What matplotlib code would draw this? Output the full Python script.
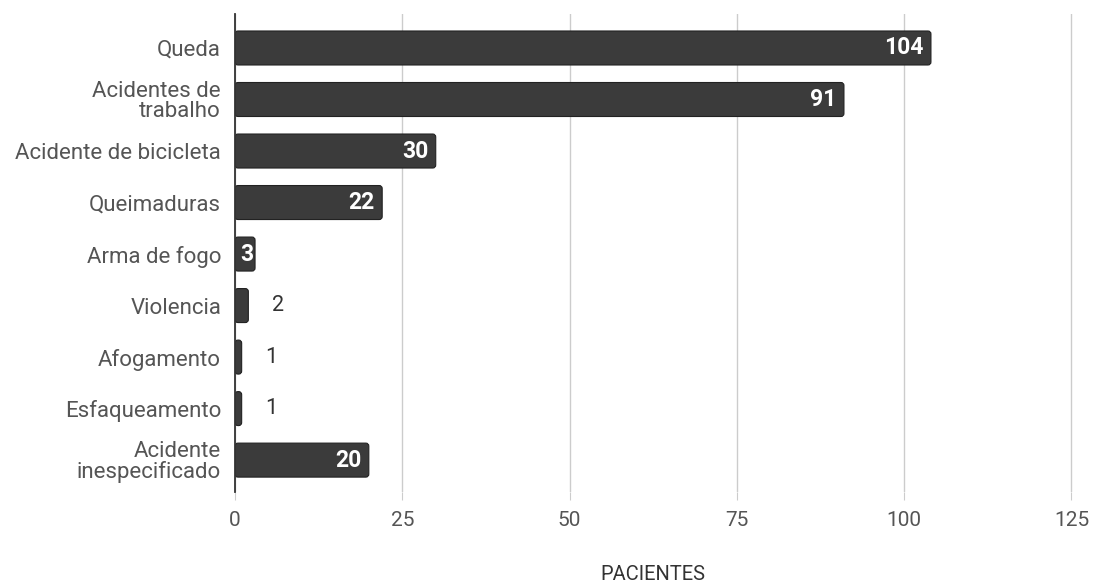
import matplotlib
matplotlib.use("Agg")
import matplotlib.pyplot as plt
from matplotlib.patches import FancyBboxPatch

plt.rcParams['font.family'] = ['Roboto', 'DejaVu Sans']

categorias = ["Queda", "Acidentes de\ntrabalho", "Acidente de bicicleta", "Queimaduras",
              "Arma de fogo", "Violencia", "Afogamento", "Esfaqueamento",
              "Acidente\ninespecificado"]
pacientes = [104, 91, 30, 22, 3, 2, 1, 1, 20]
xticks = [0, 25, 50, 75, 100, 125]

cor_barra = "#3b3b3b"
cor_texto = "#555555"

fig = plt.figure(figsize=(10.99, 5.83), dpi=100)
ax = fig.add_axes([0.2138, 0.156, 0.7642, 0.82])

pos = list(range(len(categorias)))
barras = ax.barh(pos, pacientes, height=0.66, color=cor_barra, zorder=3)

# troca as barras por retangulos com cantos arredondados
for b in barras:
    b.set_visible(False)
    x0, y0 = b.get_x(), b.get_y()
    w, h = b.get_width(), b.get_height()
    r = min(0.45, w / 2)
    p = FancyBboxPatch((x0, y0), w, h,
                       boxstyle=f"round,pad=0,rounding_size={r}",
                       mutation_aspect=0.13, facecolor=cor_barra,
                       edgecolor="#222222", linewidth=0.8, zorder=3)
    ax.add_patch(p)

for y, v in zip(pos, pacientes):
    if v >= 3:
        folga = 1.1 if v >= 10 else 0.3
        ax.text(v - folga, y, str(v), ha="right", va="center", color="white",
                fontsize=16.5, fontweight="bold", zorder=4)
    else:
        ax.text(v + 3.5, y, str(v), ha="left", va="center", color="#333333",
                fontsize=15.5, zorder=4)

ax.set_ylim(len(categorias) - 1 + 0.62, -0.66)
ax.set_xlim(0, 125.5)
ax.set_yticks(pos)
ax.set_yticklabels(categorias, fontsize=16, color=cor_texto, linespacing=0.92)
ax.set_xticks(xticks)
ax.set_xticklabels([str(t) for t in xticks], fontsize=15, color=cor_texto)

ax.grid(axis="x", color="#cccccc", linewidth=1.0, zorder=0)
for s in ["top", "right", "bottom"]:
    ax.spines[s].set_visible(False)
ax.spines["left"].set_color("#333333")
ax.spines["left"].set_linewidth(1.3)
ax.spines["left"].set_zorder(5)

ax.tick_params(axis="y", length=0, pad=10)
ax.tick_params(axis="x", length=6, color="#cccccc", pad=8)

fig.text(0.594, -0.002, "PACIENTES", ha="center", va="bottom",
         fontsize=14.5, color="#333333")

fig.savefig("out.png", dpi=100)
